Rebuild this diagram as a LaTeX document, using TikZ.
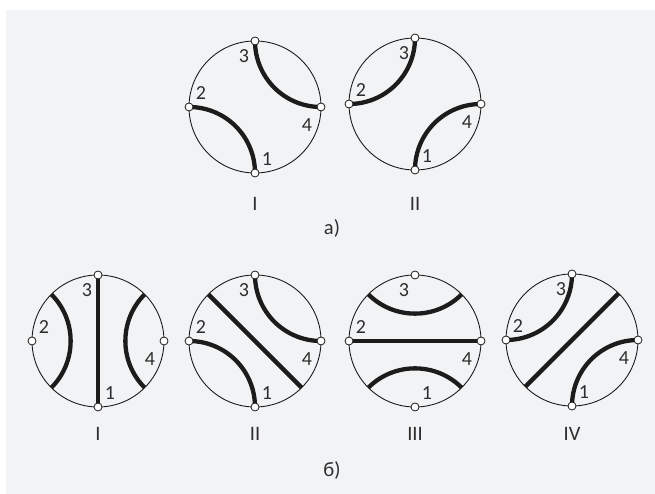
\documentclass[tikz,border=0pt]{standalone}
\usepackage{fontspec}
\setmainfont{Carlito}
\usepackage{tikz}
\usetikzlibrary{calc}
\definecolor{PanelGray}{RGB}{242,243,245}
\definecolor{InkDark}{RGB}{28,28,28}
\definecolor{TextDark}{RGB}{45,45,45}

\begin{document}
\begin{tikzpicture}[x=1pt, y=1pt,
          ring/.style={draw=InkDark, line width=0.9pt},
          geo/.style={draw=InkDark, line width=4.3pt},
          dot/.style={circle, draw=InkDark, fill=white, line width=0.8pt,
                      minimum size=8pt, inner sep=0pt},
          num/.style={font=\fontsize{20}{23}\selectfont, text=TextDark, inner sep=0pt},
          caption/.style={font=\fontsize{20.5}{24}\selectfont, text=TextDark}
        ]
        \useasboundingbox (0,0) rectangle (655,494);
        \fill[PanelGray] (6,0) rectangle (655,484);

        % rings with their boundary points
        \foreach \n/\x/\y in {aI/255/387, aII/415/390,
                              bI/98/153, bII/255/153, bIII/415/153, bIV/572/154} {
          \draw[ring] (\x,\y) circle[radius=66];
          \foreach \a in {0,45,...,315}
            \coordinate (\n-\a) at ($(\x,\y)+(\a:66)$);
          \node[num] (\n-n1) at ($(\x,\y)+(12,-52)$) {1};
          \node[num] (\n-n2) at ($(\x,\y)+(-54,14)$) {2};
          \node[num] (\n-n3) at ($(\x,\y)+(-11,51)$) {3};
          \node[num] (\n-n4) at ($(\x,\y)+(52,-18)$) {4};
        }

        % a)
        \draw[geo] (aI-180) to[bend left=45] (aI-270);
        \draw[geo] (aI-0)   to[bend left=45] (aI-90);
        \draw[geo] (aII-90)  to[bend left=45] (aII-180);
        \draw[geo] (aII-270) to[bend left=45] (aII-0);

        % b)
        \draw[geo] (bI-135) to[bend left=45] (bI-225);
        \draw[geo] (bI-315) to[bend left=45] (bI-45);
        \draw[geo] (bI-90) -- (bI-270);

        \draw[geo] (bII-0)   to[bend left=45] (bII-90);
        \draw[geo] (bII-180) to[bend left=45] (bII-270);
        \draw[geo] (bII-135) -- (bII-315);

        \draw[geo] (bIII-45)  to[bend left=45] (bIII-135);
        \draw[geo] (bIII-225) to[bend left=45] (bIII-315);
        \draw[geo] (bIII-180) -- (bIII-0);

        \draw[geo] (bIV-90)  to[bend left=45] (bIV-180);
        \draw[geo] (bIV-270) to[bend left=45] (bIV-0);
        \draw[geo] (bIV-45) -- (bIV-225);

        % terminals
        \foreach \n in {aI, aII, bI, bII, bIII, bIV}
          \foreach \a in {0,90,180,270}
            \node[dot] (\n-t\a) at (\n-\a) {};

        % captions
        \node[caption] (capaI)  at (255,290) {I};
        \node[caption] (capaII) at (415,290) {II};
        \node[caption] (capa)   at (332,266) {а)};
        \node[caption] (capbI)   at (98,60)  {I};
        \node[caption] (capbII)  at (255,60) {II};
        \node[caption] (capbIII) at (415,60) {III};
        \node[caption] (capbIV)  at (572,60) {IV};
        \node[caption] (capb)    at (332,24) {б)};
      \end{tikzpicture}
\end{document}
